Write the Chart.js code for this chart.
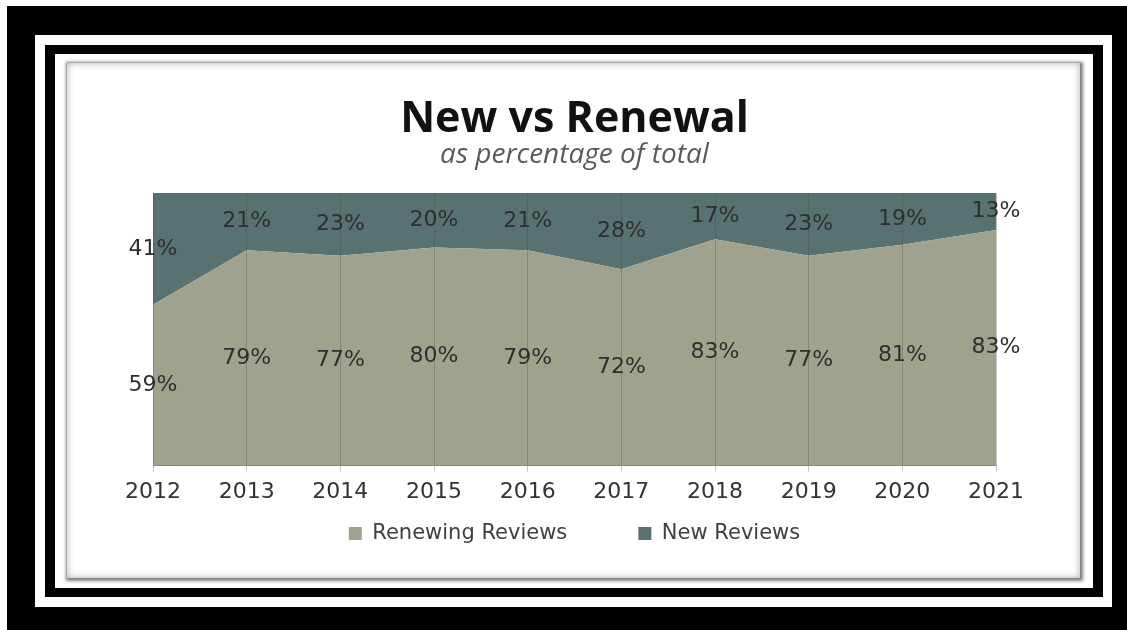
<!DOCTYPE html>
<html>
<head>
<meta charset="utf-8">
<script src="https://cdn.jsdelivr.net/npm/chart.js@4.4.1/dist/chart.umd.min.js"></script>
<style>
  html, body { margin: 0; padding: 0; background: #fff; }
  body { width: 1127px; height: 630px; position: relative; overflow: hidden; }
  .box { position: absolute; box-sizing: border-box; }
  #outer { left: 7px; top: 6px; right: 0; bottom: 0; background: #000; }
  #gap1 { left: 35px; top: 35px; width: 1077px; height: 572px; background: #fff; }
  #inner { left: 45px; top: 45px; width: 1058px; height: 552px; background: #000; }
  #gap2 { left: 55px; top: 54px; width: 1038px; height: 534px; background: #fff; }
  #panel {
    left: 67px; top: 63px; width: 1013px; height: 515px; background: #fff;
    box-shadow: 1px 1px 3px 2px rgba(0,0,0,0.5), inset 0 0 7px rgba(0,0,0,0.32);
  }
  #panel canvas { position: absolute; left: 0; top: 0; }
</style>
</head>
<body>
<div class="box" id="outer"></div>
<div class="box" id="gap1"></div>
<div class="box" id="inner"></div>
<div class="box" id="gap2"></div>
<div class="box" id="panel"><canvas id="shareChart" width="1013" height="515"></canvas></div>

<script>
const years = ['2012', '2013', '2014', '2015', '2016', '2017', '2018', '2019', '2020', '2021'];
const renewing = [59, 79, 77, 80, 79, 72, 83, 77, 81, 83];
const newReviews = [41, 21, 23, 20, 21, 28, 17, 23, 19, 13];

// 100% stacked: each year is scaled to its own total
const totals = years.map((y, i) => renewing[i] + newReviews[i]);
const renewingShare = renewing.map((v, i) => v / totals[i] * 100);
const newShare = newReviews.map((v, i) => v / totals[i] * 100);

// percent labels in the middle of each band
const bandLabels = {
  id: 'bandLabels',
  afterDraw(chart) {
    const ctx = chart.ctx;
    const bottom = chart.chartArea.bottom;
    const m0 = chart.getDatasetMeta(0);
    const m1 = chart.getDatasetMeta(1);
    ctx.save();
    ctx.font = '22px "DejaVu Sans"';
    ctx.fillStyle = '#2e2e2e';
    ctx.textAlign = 'center';
    ctx.textBaseline = 'middle';
    years.forEach((y, i) => {
      const p0 = m0.data[i];
      const p1 = m1.data[i];
      ctx.fillText(renewing[i] + '%', p0.x, (bottom + p0.y) / 2);
      ctx.fillText(newReviews[i] + '%', p1.x, (p0.y + p1.y) / 2);
    });
    ctx.restore();
  }
};

new Chart(document.getElementById('shareChart'), {
  type: 'line',
  data: {
    labels: years,
    datasets: [
      {
        label: 'Renewing Reviews',
        data: renewingShare,
        backgroundColor: '#a1a28d',
        borderColor: '#a1a28d',
        borderWidth: 0,
        pointRadius: 0,
        fill: 'origin',
        tension: 0
      },
      {
        label: 'New Reviews',
        data: newShare,
        backgroundColor: '#587171',
        borderColor: '#587171',
        borderWidth: 0,
        pointRadius: 0,
        fill: '-1',
        tension: 0
      }
    ]
  },
  options: {
    responsive: false,
    animation: false,
    layout: { padding: { left: 86, right: 84, top: 0, bottom: 24 } },
    scales: {
      x: {
        offset: false,
        grid: { z: 1, color: 'rgba(70,70,60,0.3)', tickLength: 6 },
        border: { z: 1, display: true, color: '#8a8a80' },
        ticks: { color: '#333', font: { family: 'DejaVu Sans', size: 22 }, padding: 7, maxRotation: 0 }
      },
      y: { display: false, stacked: true, min: 0, max: 100 }
    },
    plugins: {
      title: {
        display: true,
        text: 'New vs Renewal',
        color: '#111',
        font: { family: 'Open Sans', size: 43, weight: 'bold', lineHeight: 1 },
        padding: { top: 35, bottom: 0 }
      },
      subtitle: {
        display: true,
        text: 'as percentage of total',
        color: '#5a5a5a',
        font: { family: 'Open Sans', size: 28, style: 'italic', lineHeight: 1 },
        padding: { top: 0, bottom: 24 }
      },
      legend: {
        position: 'bottom',
        labels: {
          boxWidth: 13,
          boxHeight: 13,
          padding: 11,
          color: '#404040',
          font: { family: 'DejaVu Sans', size: 21 },
          generateLabels(chart) {
            const items = Chart.defaults.plugins.legend.labels.generateLabels(chart);
            items[0].text += '         ';
            return items;
          }
        }
      },
      tooltip: { enabled: false }
    }
  },
  plugins: [bandLabels]
});
</script>
</body>
</html>
